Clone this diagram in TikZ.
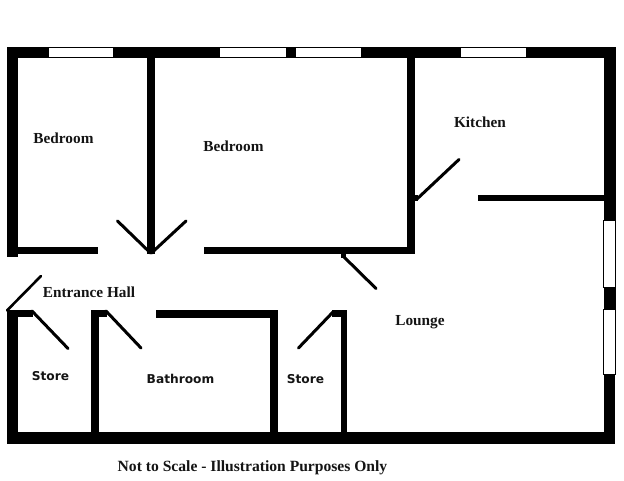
\documentclass[tikz,border=0pt]{standalone}
\usepackage{fontspec}
\setmainfont{Liberation Serif}
\newfontfamily\labelsans{DejaVu Sans}
\tikzset{
  wall/.style={fill=black,draw=none},
  glazing/.style={fill=white,draw=black,line width=0.9pt},
  doorleaf/.style={draw=black,line width=3pt,line cap=round},
  serifroom/.style={font=\fontsize{15.3}{17}\selectfont\bfseries,text=black!92,inner sep=0pt,anchor=center},
  sansroom/.style={font=\labelsans\fontsize{12.2}{14}\selectfont\bfseries,text=black!92,inner sep=0pt,anchor=center}
}
\begin{document}
\begin{tikzpicture}[x=1pt,y=-1pt]
\useasboundingbox (0,0) rectangle (624,481);
\fill[white] (0,0) rectangle (624,481);
% outer walls
\fill[wall] (6.5,47) rectangle (616,58);
\fill[wall] (6.5,47) rectangle (18,257);
\fill[wall] (603.5,47) rectangle (616,220);
\fill[wall] (603.5,287) rectangle (615.5,309);
\fill[wall] (603.5,374) rectangle (615,443.5);
\fill[wall] (6.5,432) rectangle (615,443.5);
\fill[wall] (6.5,310) rectangle (18,443.5);
% windows
\draw[glazing] (48,47.5) rectangle (113,57.5);
\draw[glazing] (219,47.5) rectangle (286,57.5);
\draw[glazing] (295.5,47) rectangle (361,57.5);
\draw[glazing] (460,47) rectangle (526,57.5);
\draw[glazing] (603.7,220) rectangle (615.7,287);
\draw[glazing] (603.7,309) rectangle (615.7,374.5);
% inner walls
\fill[wall] (147.3,58) rectangle (155,254);
\fill[wall] (18,247.3) rectangle (98,254);
\fill[wall] (204,247.3) rectangle (414.5,254);
\fill[wall] (406.8,58) rectangle (414.5,254);
\fill[wall] (477.5,195.3) rectangle (604,201);
\fill[wall] (6.5,310) rectangle (33,317.3);
\fill[wall] (91,310) rectangle (107,317.3);
\fill[wall] (91,310) rectangle (99,432);
\fill[wall] (156,310) rectangle (278,317.8);
\fill[wall] (270,310) rectangle (278,432);
\fill[wall] (332,310) rectangle (347,317.3);
\fill[wall] (340.5,310) rectangle (347,432);
\fill[wall] (340.5,253) rectangle (346,258);
\fill[wall] (407,195) rectangle (418,201);
% door leaves
\draw[doorleaf] (117.5,221) -- (150.5,253);
\draw[doorleaf] (186,221) -- (151.5,253);
\draw[doorleaf] (459,159.5) -- (417,199);
\draw[doorleaf,line width=2.6pt] (41,276) -- (7,310.5);
\draw[doorleaf] (32,311) -- (68,348.5);
\draw[doorleaf] (106,311) -- (141,348);
\draw[doorleaf] (298.5,348) -- (333,312);
\draw[doorleaf] (343,256) -- (376,288.5);
% labels
\node[serifroom] (bedroomA) at (63.5,138.6) {Bedroom};
\node[serifroom] (bedroomB) at (233.5,146.6) {Bedroom};
\node[serifroom] (kitchen) at (480,122.6) {Kitchen};
\node[serifroom] (hall) at (89,292.6) {Entrance Hall};
\node[serifroom] (lounge) at (420,322.6) {Lounge};
\node[sansroom] (storeA) at (50.5,376.3) {Store};
\node[sansroom] (bathroom) at (180.5,379.3) {Bathroom};
\node[sansroom] (storeB) at (305.5,379.3) {Store};
\node[serifroom,font=\fontsize{15.6}{17}\selectfont\bfseries] (note) at (252.5,468) {Not to Scale - Illustration Purposes Only};
\end{tikzpicture}
\end{document}
